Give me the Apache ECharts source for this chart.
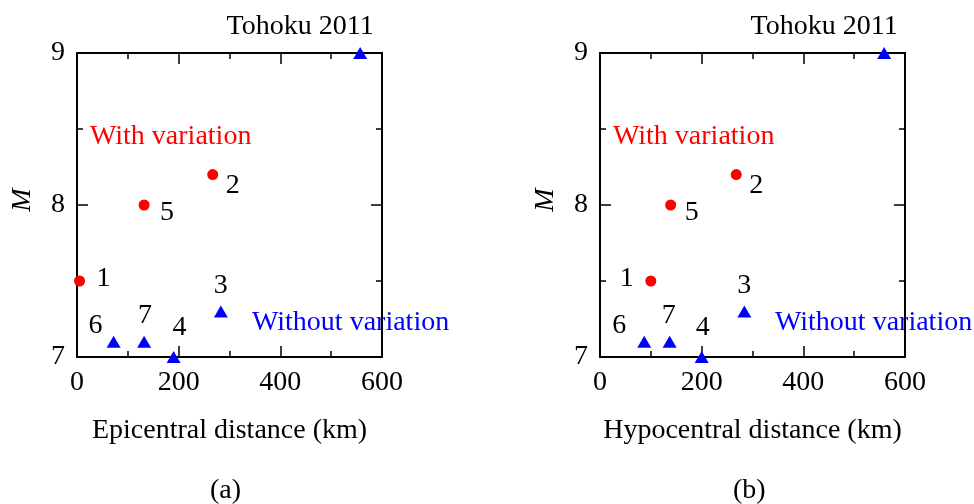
<!DOCTYPE html>
<html>
<head>
<meta charset="utf-8">
<script src="https://cdn.jsdelivr.net/npm/echarts@6/dist/echarts.min.js"></script>
<style>
  html, body { margin: 0; padding: 0; background: #fff; }
  #chart { width: 974px; height: 504px; }
</style>
</head>
<body>
<div id="chart"></div>
<script>
// Earthquake events: magnitude against source distance
const eventLabels   = ['1', '2', '3', '4', '5', '6', '7', 'Tohoku 2011'];
const magnitude     = [7.5, 8.2, 7.3, 7.0, 8.0, 7.1, 7.1, 9.0];
const epicentralKm  = [5, 267, 283, 190, 132, 72, 132, 557];
const hypocentralKm = [100, 268, 284, 200, 139, 87, 137, 559];
const withVariation = [true, true, false, false, true, false, false, false];

const xTicks = [0, 200, 400, 600];
const yTicks = [7, 8, 9];

// label offsets (px) from each marker, per panel
const labelOffsetA = [[24, -2], [20, 11], [0, -26], [6, -29], [23, 8], [-18, -16], [1, -26], [-60, -26]];
const labelOffsetB = [[-24, -2], [20, 11], [0, -26], [1, -29], [21, 8], [-25, -16], [-1, -26], [-60, -26]];

const FONT = 'Liberation Serif';
const FS = 28;
const RED = '#ff0000';
const BLUE = '#0000ff';

const grids = [
  { left: 77, top: 53, width: 305, height: 304 },
  { left: 600, top: 53, width: 305, height: 304 }
];
const xNames = ['Epicentral distance (km)', 'Hypocentral distance (km)'];

const xAxes = [], yAxes = [];
grids.forEach((g, i) => {
  const common = {
    gridIndex: i,
    axisLine: { show: true, onZero: false, lineStyle: { color: '#000', width: 2 } },
    axisTick: { show: true, inside: true, length: 11, lineStyle: { color: '#000', width: 1.5 } },
    minorTick: { show: true, splitNumber: 2, length: 6, lineStyle: { color: '#000', width: 1.5 } },
    splitLine: { show: false },
    minorSplitLine: { show: false }
  };
  // bottom / left axes with labels
  xAxes.push(Object.assign({}, common, {
    type: 'value', position: 'bottom', min: xTicks[0], max: xTicks[xTicks.length - 1], interval: 200,
    axisLabel: { show: true, margin: 12, color: '#000', fontFamily: FONT, fontSize: FS },
    name: xNames[i], nameLocation: 'middle', nameGap: 60,
    nameTextStyle: { color: '#000', fontFamily: FONT, fontSize: FS }
  }));
  yAxes.push(Object.assign({}, common, {
    type: 'value', position: 'left', min: yTicks[0], max: yTicks[yTicks.length - 1], interval: 1,
    axisLabel: { show: true, margin: 12, color: '#000', fontFamily: FONT, fontSize: FS, padding: [3, 0, 0, 0] },
    name: 'M', nameLocation: 'middle', nameGap: 40, nameRotate: 90,
    nameTextStyle: { color: '#000', fontFamily: FONT, fontSize: FS, fontStyle: 'italic', padding: [0, 0, 0, 10] }
  }));
  // mirrored top / right axes (ticks only)
  xAxes.push(Object.assign({}, common, {
    type: 'value', position: 'top', min: xTicks[0], max: xTicks[xTicks.length - 1], interval: 200,
    axisLabel: { show: false }
  }));
  yAxes.push(Object.assign({}, common, {
    type: 'value', position: 'right', min: yTicks[0], max: yTicks[yTicks.length - 1], interval: 1,
    axisLabel: { show: false }
  }));
});

function buildSeries(panel, distances, offsets) {
  const out = [];
  [true, false].forEach(flag => {
    const data = [];
    eventLabels.forEach((lab, k) => {
      if (withVariation[k] !== flag) return;
      data.push({
        value: [distances[k], magnitude[k]],
        label: { offset: offsets[k] },
        name: lab
      });
    });
    out.push({
      type: 'scatter',
      xAxisIndex: panel * 2,
      yAxisIndex: panel * 2,
      symbol: flag ? 'circle' : 'triangle',
      symbolSize: flag ? 11 : [14, 12],
      itemStyle: { color: flag ? RED : BLUE, opacity: 1 },
      label: {
        show: true, position: 'inside', formatter: '{b}',
        align: 'center', verticalAlign: 'middle',
        color: '#000', fontFamily: FONT, fontSize: FS,
        textBorderWidth: 0
      },
      clip: false,
      silent: true,
      z: 5,
      data: data
    });
  });
  return out;
}

const series = [].concat(
  buildSeries(0, epicentralKm, labelOffsetA),
  buildSeries(1, hypocentralKm, labelOffsetB)
);

// series captions and panel letters
const graphic = [];
grids.forEach((g, i) => {
  graphic.push({
    type: 'text', left: g.left + 13, top: 123,
    style: { text: 'With variation', fill: RED, font: FS + 'px "' + FONT + '"' }
  });
  graphic.push({
    type: 'text', left: g.left + 175, top: 309,
    style: { text: 'Without variation', fill: BLUE, font: FS + 'px "' + FONT + '"' }
  });
  graphic.push({
    type: 'text', left: g.left + 133, top: 477,
    style: { text: i === 0 ? '(a)' : '(b)', fill: '#000', font: FS + 'px "' + FONT + '"' }
  });
});

const chart = echarts.init(document.getElementById('chart'), null, { renderer: 'canvas' });
chart.setOption({
  animation: false,
  backgroundColor: '#fff',
  grid: grids,
  xAxis: xAxes,
  yAxis: yAxes,
  series: series,
  graphic: graphic
});
</script>
</body>
</html>
